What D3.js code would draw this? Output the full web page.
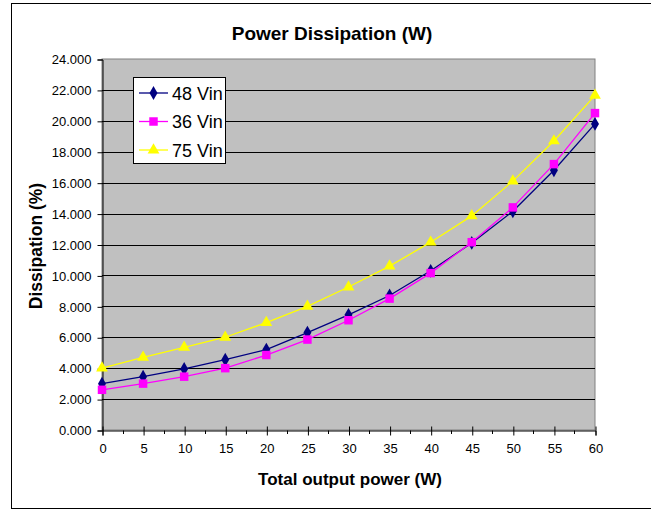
<!DOCTYPE html>
<html><head><meta charset="utf-8">
<script src="https://cdn.jsdelivr.net/npm/d3@7"></script>
<style>body{margin:0;background:#fff;} text{font-family:"Liberation Sans",Arial,sans-serif;}</style>
</head><body>
<svg id="c" width="651" height="510"></svg>
<script>
const xValues = [0,5,10,15,20,25,30,35,40,45,50,55,60];
const vin48 = [3.0,3.45,3.95,4.55,5.2,6.3,7.45,8.7,10.3,12.1,14.15,16.8,19.8];
const vin36 = [2.6,3.0,3.45,4.0,4.85,5.85,7.1,8.5,10.15,12.15,14.4,17.2,20.5];
const vin75 = [4.0,4.7,5.35,6.0,6.95,8.0,9.25,10.6,12.15,13.85,16.1,18.7,21.65];
const seriesNames = ["48 Vin","36 Vin","75 Vin"];
const yTicks = [0,2,4,6,8,10,12,14,16,18,20,22,24];

const svg = d3.select("#c");
const L=102, R=595, T=59, B=430;
const x = d3.scaleLinear().domain([0,60]).range([L,R]);
const y = d3.scaleLinear().domain([0,24]).range([B,T]);

svg.append("rect").attr("x",11.5).attr("y",3.5).attr("width",660).attr("height",505)
  .attr("fill","#fff").attr("stroke","#000").attr("stroke-width",1);

svg.append("rect").attr("x",L).attr("y",T).attr("width",R-L).attr("height",B-T)
  .attr("fill","#C0C0C0").attr("stroke","#808080").attr("stroke-width",1);

svg.append("g").selectAll("line").data(yTicks.filter(d=>d>0 && d<24)).join("line")
  .attr("x1",L).attr("x2",R).attr("y1",d=>Math.round(y(d))+0.5).attr("y2",d=>Math.round(y(d))+0.5)
  .attr("stroke","#000").attr("stroke-width",1);

const yAxis = d3.axisLeft(y).tickValues(yTicks).tickFormat(d3.format(".3f")).tickSize(5).tickPadding(6);
const gy = svg.append("g").attr("transform",`translate(${L+0.5},0.5)`).call(yAxis);
gy.select(".domain").attr("stroke","#000");
gy.selectAll(".tick line").attr("stroke","#000");
gy.selectAll("text").attr("font-size",13).attr("fill","#000").style("font-family","'Liberation Sans', Arial");

const xAxis = d3.axisBottom(x).tickValues(xValues).tickSize(5).tickPadding(8);
const gx = svg.append("g").attr("transform",`translate(0.5,${B+0.5})`).call(xAxis);
gx.select(".domain").attr("stroke","#000");
gx.selectAll(".tick line").attr("stroke","#000").attr("y1",-4);
gx.selectAll("text").attr("font-size",13).attr("fill","#000").style("font-family","'Liberation Sans', Arial");
svg.append("g").selectAll("line").data(xValues.slice(0,-1).map(d=>d+2.5)).join("line")
  .attr("x1",d=>Math.round(x(d))+0.5).attr("x2",d=>Math.round(x(d))+0.5)
  .attr("y1",B+0.5).attr("y2",B+4).attr("stroke","#000");

svg.append("text").attr("x",332).attr("y",40).attr("text-anchor","middle")
  .attr("font-size",19).attr("font-weight","bold").text("Power Dissipation (W)");
svg.append("text").attr("x",350).attr("y",485).attr("text-anchor","middle")
  .attr("font-size",17).attr("font-weight","bold").text("Total output power (W)");
svg.append("text").attr("transform","translate(42,246) rotate(-90)").attr("text-anchor","middle")
  .attr("font-size",17.5).attr("font-weight","bold").text("Dissipation (%)");

const series = [
  {name:seriesNames[0], vals:vin48, color:"#000080", sym:d3.symbolDiamond, size:55},
  {name:seriesNames[1], vals:vin36, color:"#FF00FF", sym:d3.symbolSquare, size:72},
  {name:seriesNames[2], vals:vin75, color:"#FFFF00", sym:d3.symbolTriangle, size:60},
];
const line = d3.line().x((d,i)=>x(xValues[i])).y(d=>y(d));
series.forEach(s=>{
  svg.append("path").datum(s.vals).attr("d",line).attr("fill","none")
    .attr("stroke",s.color).attr("stroke-width",1.3);
  svg.append("g").selectAll("path").data(s.vals).join("path")
    .attr("transform",(d,i)=>`translate(${x(xValues[i])},${y(d)})`)
    .attr("d",d3.symbol().type(s.sym).size(s.size)).attr("fill",s.color);
});

const lg = svg.append("g");
lg.append("rect").attr("x",133.5).attr("y",77.5).attr("width",92).attr("height",86)
  .attr("fill","#fff").attr("stroke","#000");
series.forEach((s,i)=>{
  const yy = 93 + i*28.5;
  lg.append("line").attr("x1",139).attr("x2",168).attr("y1",yy).attr("y2",yy)
    .attr("stroke",s.color).attr("stroke-width",1.3);
  lg.append("path").attr("transform",`translate(153.5,${yy})`)
    .attr("d",d3.symbol().type(s.sym).size(s.size)).attr("fill",s.color);
  lg.append("text").attr("x",172).attr("y",yy+6.5).attr("font-size",18).text(s.name);
});
</script>
</body></html>
